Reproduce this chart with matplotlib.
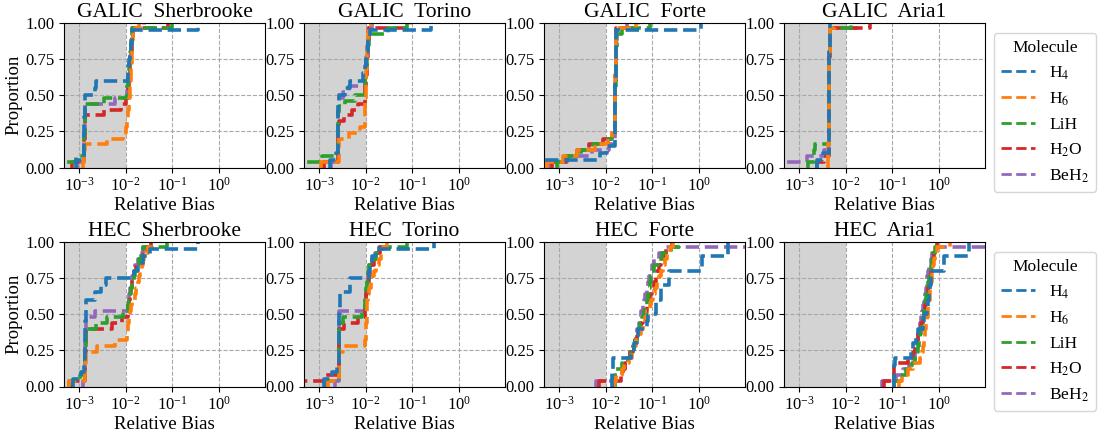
import matplotlib.pyplot as plt
from matplotlib.lines import Line2D

plt.rcParams['font.family'] = ['Liberation Serif', 'DejaVu Serif']
plt.rcParams['mathtext.fontset'] = 'stix'
plt.rcParams['font.size'] = 12

# Molecules and styling
molecules = ['H4', 'H6', 'LiH', 'H2O', 'BeH2']
molecule_labels = ['H$_4$', 'H$_6$', 'LiH', 'H$_2$O', 'BeH$_2$']
colors = ['tab:blue', 'tab:orange', 'tab:green', 'tab:red', 'tab:purple']

methods = ['GALIC', 'HEC']
devices = ['Sherbrooke', 'Torino', 'Forte', 'Aria1']

# relative bias samples, one dict per (method, device) panel
galic_sherbrooke = {
    'H4': [8.5e-4, 1.28e-3, 1.29e-3, 1.3e-3, 1.3e-3, 1.31e-3, 1.31e-3, 1.32e-3, 1.33e-3, 1.34e-3,
           2.2e-3, 2.3e-3, 1.1e-2, 1.15e-2, 1.2e-2, 1.25e-2, 1.3e-2, 1.35e-2, 1.4e-2, 0.36],
    'H6': [1.2e-3, 1.3e-3, 1.32e-3, 1.35e-3, 3.9e-3, 8.9e-3, 1.02e-2, 1.08e-2, 1.12e-2, 1.15e-2,
           1.18e-2, 1.2e-2, 1.22e-2, 1.24e-2, 1.26e-2, 1.28e-2, 1.3e-2, 1.32e-2, 1.34e-2, 1.36e-2,
           1.38e-2, 1.4e-2, 1.42e-2, 1.6e-2, 1.9e-2],
    'LiH': [3e-4, 8.5e-4, 1.3e-3, 1.3e-3, 1.31e-3, 1.31e-3, 1.32e-3, 1.32e-3, 1.33e-3, 1.33e-3,
            1.34e-3, 3.5e-3, 1.05e-2, 1.08e-2, 1.1e-2, 1.13e-2, 1.16e-2, 1.2e-2, 1.23e-2, 1.26e-2,
            1.3e-2, 1.33e-2, 1.37e-2, 1.4e-2, 0.1],
    'H2O': [7e-4, 1.3e-3, 1.3e-3, 1.31e-3, 1.31e-3, 1.32e-3, 1.32e-3, 1.33e-3, 1.34e-3, 3.5e-3,
            8e-3, 1.0e-2, 1.1e-2, 1.13e-2, 1.16e-2, 1.19e-2, 1.22e-2, 1.25e-2, 1.28e-2, 1.31e-2,
            1.34e-2, 1.37e-2, 1.41e-2, 1.45e-2, 0.08],
    'BeH2': [9e-4, 1.29e-3, 1.3e-3, 1.3e-3, 1.31e-3, 1.31e-3, 1.32e-3, 1.32e-3, 1.33e-3, 1.33e-3,
             1.34e-3, 6e-3, 1.05e-2, 1.08e-2, 1.1e-2, 1.13e-2, 1.16e-2, 1.2e-2, 1.23e-2, 1.26e-2,
             1.3e-2, 1.33e-2, 1.37e-2, 1.4e-2, 2.5e-2],
}

galic_torino = {
    'H4': [1.7e-3, 2.3e-3, 2.58e-3, 2.59e-3, 2.6e-3, 2.6e-3, 2.61e-3, 2.61e-3, 2.62e-3, 2.63e-3,
           3.6e-3, 4.6e-3, 9e-3, 9.5e-3, 1.0e-2, 1.05e-2, 1.1e-2, 1.15e-2, 1.25e-2, 0.25],
    'H6': [1.1e-3, 2.63e-3, 2.64e-3, 2.65e-3, 2.66e-3, 4.5e-3, 7.5e-3, 9.5e-3, 9.6e-3, 9.7e-3,
           9.8e-3, 9.9e-3, 1.0e-2, 1.01e-2, 1.02e-2, 1.03e-2, 1.04e-2, 1.05e-2, 1.06e-2, 1.08e-2,
           1.1e-2, 1.12e-2, 1.14e-2, 1.15e-2, 1.3e-2],
    'LiH': [3e-4, 1.15e-3, 2.58e-3, 2.59e-3, 2.6e-3, 2.6e-3, 2.61e-3, 2.61e-3, 2.62e-3, 2.62e-3,
            2.63e-3, 3.6e-3, 6e-3, 9.5e-3, 9.7e-3, 9.9e-3, 1.01e-2, 1.03e-2, 1.05e-2, 1.08e-2,
            1.1e-2, 1.15e-2, 1.2e-2, 1.3e-2, 3e-2, 7.5e-2],
    'H2O': [1.3e-3, 2.59e-3, 2.6e-3, 2.6e-3, 2.61e-3, 2.61e-3, 2.62e-3, 2.63e-3, 3.5e-3, 5e-3,
            7e-3, 9.5e-3, 9.7e-3, 9.9e-3, 1.01e-2, 1.03e-2, 1.05e-2, 1.07e-2, 1.09e-2, 1.11e-2,
            1.13e-2, 1.15e-2, 1.18e-2, 1.2e-2, 9e-2],
    'BeH2': [1.8e-3, 2.57e-3, 2.58e-3, 2.59e-3, 2.6e-3, 2.6e-3, 2.61e-3, 2.61e-3, 2.62e-3, 2.62e-3,
             2.63e-3, 2.64e-3, 3.3e-3, 4.5e-3, 9.5e-3, 9.7e-3, 9.9e-3, 1.01e-2, 1.03e-2, 1.06e-2,
             1.09e-2, 1.12e-2, 1.14e-2, 1.15e-2, 1.35e-2],
}

galic_forte = {
    'H4': [3e-4, 7.5e-3, 1.05e-2, 1.55e-2, 1.56e-2, 1.57e-2, 1.58e-2, 1.59e-2, 1.6e-2, 1.6e-2,
           1.61e-2, 1.62e-2, 1.63e-2, 1.64e-2, 1.65e-2, 1.66e-2, 1.67e-2, 1.68e-2, 1.7e-2, 1.1],
    'H6': [5.5e-4, 1.2e-3, 2.5e-3, 6e-3, 1.1e-2, 1.35e-2, 1.55e-2, 1.56e-2, 1.57e-2, 1.58e-2,
           1.59e-2, 1.6e-2, 1.6e-2, 1.61e-2, 1.61e-2, 1.62e-2, 1.63e-2, 1.64e-2, 1.65e-2, 1.66e-2,
           1.67e-2, 1.68e-2, 1.69e-2, 1.7e-2, 4.5e-2],
    'LiH': [9e-4, 1.6e-3, 3e-3, 5.5e-3, 1.15e-2, 1.4e-2, 1.55e-2, 1.56e-2, 1.57e-2, 1.58e-2,
            1.59e-2, 1.6e-2, 1.61e-2, 1.62e-2, 1.63e-2, 1.64e-2, 1.65e-2, 1.66e-2, 1.67e-2, 1.68e-2,
            1.7e-2, 1.72e-2, 1.75e-2, 2.2e-2, 9e-2],
    'H2O': [7e-4, 1.4e-3, 2.5e-3, 4.5e-3, 9e-3, 1.3e-2, 1.55e-2, 1.56e-2, 1.57e-2, 1.58e-2,
            1.59e-2, 1.6e-2, 1.6e-2, 1.61e-2, 1.61e-2, 1.62e-2, 1.63e-2, 1.64e-2, 1.65e-2, 1.66e-2,
            1.67e-2, 1.68e-2, 1.69e-2, 1.7e-2, 5e-2],
    'BeH2': [6e-4, 1.5e-3, 5e-3, 1.2e-2, 1.55e-2, 1.56e-2, 1.57e-2, 1.58e-2, 1.59e-2, 1.6e-2,
             1.6e-2, 1.61e-2, 1.61e-2, 1.62e-2, 1.63e-2, 1.64e-2, 1.65e-2, 1.66e-2, 1.67e-2, 1.68e-2,
             1.69e-2, 1.7e-2, 1.72e-2, 1.75e-2, 2.9e-2],
}

galic_aria1 = {
    'H4': [2.5e-3, 3.3e-3, 4.35e-3, 4.37e-3, 4.38e-3, 4.4e-3, 4.4e-3, 4.41e-3, 4.42e-3, 4.43e-3,
           4.44e-3, 4.45e-3, 4.46e-3, 4.47e-3, 4.48e-3, 4.5e-3, 4.52e-3, 4.54e-3, 4.57e-3, 4.6e-3],
    'H6': [4.1e-3, 4.15e-3, 4.2e-3, 4.25e-3, 4.3e-3, 4.32e-3, 4.34e-3, 4.36e-3, 4.38e-3, 4.4e-3,
           4.4e-3, 4.41e-3, 4.42e-3, 4.43e-3, 4.44e-3, 4.45e-3, 4.46e-3, 4.47e-3, 4.48e-3, 4.5e-3,
           4.52e-3, 4.54e-3, 4.57e-3, 4.6e-3, 6e-3],
    'LiH': [1.6e-3, 2.1e-3, 2.15e-3, 2.2e-3, 4.3e-3, 4.32e-3, 4.34e-3, 4.36e-3, 4.38e-3, 4.4e-3,
            4.4e-3, 4.41e-3, 4.42e-3, 4.43e-3, 4.44e-3, 4.45e-3, 4.46e-3, 4.47e-3, 4.48e-3, 4.5e-3,
            4.52e-3, 4.54e-3, 4.57e-3, 4.6e-3, 1.3e-2],
    'H2O': [2.5e-3, 3.5e-3, 4.3e-3, 4.32e-3, 4.34e-3, 4.36e-3, 4.38e-3, 4.4e-3, 4.4e-3, 4.41e-3,
            4.42e-3, 4.43e-3, 4.44e-3, 4.45e-3, 4.46e-3, 4.47e-3, 4.48e-3, 4.5e-3, 4.51e-3, 4.52e-3,
            4.54e-3, 4.56e-3, 4.58e-3, 4.6e-3, 3.4e-2],
    'BeH2': [3e-4, 1.5e-3, 3.5e-3, 4.3e-3, 4.32e-3, 4.34e-3, 4.36e-3, 4.38e-3, 4.4e-3, 4.4e-3,
             4.41e-3, 4.42e-3, 4.43e-3, 4.44e-3, 4.45e-3, 4.46e-3, 4.47e-3, 4.48e-3, 4.5e-3, 4.52e-3,
             4.54e-3, 4.56e-3, 4.58e-3, 4.6e-3, 1.8e-2],
}

hec_sherbrooke = {
    'H4': [7.5e-4, 1.1e-3, 1.3e-3, 1.36e-3, 1.37e-3, 1.37e-3, 1.38e-3, 1.38e-3, 1.38e-3, 1.39e-3,
           1.39e-3, 1.4e-3, 2.2e-3, 3e-3, 3.8e-3, 1.5e-2, 1.8e-2, 2.3e-2, 3.3e-2, 0.36],
    'H6': [6e-4, 1.36e-3, 1.37e-3, 1.38e-3, 1.39e-3, 1.4e-3, 2.5e-3, 6e-3, 1.05e-2, 1.1e-2,
           1.15e-2, 1.2e-2, 1.25e-2, 1.3e-2, 1.35e-2, 1.55e-2, 1.7e-2, 1.8e-2, 1.9e-2, 2.0e-2,
           2.2e-2, 2.4e-2, 2.7e-2, 3.0e-2, 3.6e-2],
    'LiH': [6e-4, 1.05e-3, 1.36e-3, 1.37e-3, 1.37e-3, 1.38e-3, 1.38e-3, 1.39e-3, 1.39e-3, 1.4e-3,
            2.3e-3, 4e-3, 9e-3, 1.1e-2, 1.18e-2, 1.25e-2, 1.32e-2, 1.4e-2, 1.5e-2, 1.6e-2,
            1.7e-2, 1.9e-2, 2.1e-2, 2.4e-2, 7.5e-2],
    'H2O': [7e-4, 1.36e-3, 1.37e-3, 1.37e-3, 1.38e-3, 1.38e-3, 1.39e-3, 1.39e-3, 1.4e-3, 1.4e-3,
            5e-3, 8.5e-3, 1.1e-2, 1.15e-2, 1.2e-2, 1.25e-2, 1.3e-2, 1.35e-2, 1.4e-2, 1.5e-2,
            1.7e-2, 2.0e-2, 2.4e-2, 2.8e-2, 3.5e-2],
    'BeH2': [1.2e-3, 1.35e-3, 1.36e-3, 1.37e-3, 1.37e-3, 1.38e-3, 1.38e-3, 1.38e-3, 1.39e-3, 1.39e-3,
             1.4e-3, 1.4e-3, 2.2e-3, 1.1e-2, 1.15e-2, 1.2e-2, 1.25e-2, 1.3e-2, 1.4e-2, 1.5e-2,
             1.6e-2, 1.8e-2, 2.0e-2, 2.3e-2, 2.8e-2],
}

hec_torino = {
    'H4': [1.3e-3, 1.9e-3, 2.4e-3, 2.68e-3, 2.69e-3, 2.7e-3, 2.7e-3, 2.71e-3, 2.72e-3, 2.73e-3,
           2.85e-3, 2.86e-3, 2.88e-3, 4.6e-3, 4.7e-3, 1.2e-2, 1.25e-2, 1.35e-2, 1.7e-2, 0.29],
    'H6': [1.6e-3, 2.68e-3, 2.69e-3, 2.7e-3, 2.71e-3, 2.72e-3, 3.2e-3, 9.5e-3, 1.0e-2, 1.02e-2,
           1.04e-2, 1.05e-2, 1.06e-2, 1.08e-2, 1.09e-2, 1.1e-2, 1.2e-2, 1.3e-2, 1.4e-2, 1.5e-2,
           1.7e-2, 1.9e-2, 2.1e-2, 2.4e-2, 2.8e-2],
    'LiH': [1.5e-3, 2.66e-3, 2.67e-3, 2.68e-3, 2.69e-3, 2.7e-3, 2.7e-3, 2.71e-3, 2.72e-3, 2.73e-3,
            2.74e-3, 3.3e-3, 8.5e-3, 9.5e-3, 9.8e-3, 1.0e-2, 1.03e-2, 1.06e-2, 1.1e-2, 1.15e-2,
            1.2e-2, 1.4e-2, 1.7e-2, 2.2e-2, 7.5e-2],
    'H2O': [4e-4, 1.4e-3, 2.67e-3, 2.68e-3, 2.69e-3, 2.7e-3, 2.71e-3, 2.72e-3, 2.73e-3, 2.74e-3,
            3.5e-3, 7e-3, 9.5e-3, 9.8e-3, 1.0e-2, 1.04e-2, 1.08e-2, 1.12e-2, 1.16e-2, 1.22e-2,
            1.3e-2, 1.5e-2, 1.7e-2, 2.0e-2, 2.4e-2],
    'BeH2': [2.2e-3, 2.64e-3, 2.65e-3, 2.66e-3, 2.67e-3, 2.68e-3, 2.69e-3, 2.7e-3, 2.7e-3, 2.71e-3,
             2.72e-3, 2.73e-3, 2.74e-3, 9.5e-3, 9.8e-3, 1.0e-2, 1.03e-2, 1.06e-2, 1.1e-2, 1.15e-2,
             1.2e-2, 1.4e-2, 1.6e-2, 1.9e-2, 2.2e-2],
}

hec_forte = {
    'H4': [1.4e-2, 1.4e-2, 1.41e-2, 1.42e-2, 3.5e-2, 4e-2, 4.8e-2, 4.9e-2, 7.8e-2, 7.9e-2,
           0.117, 0.118, 0.15, 0.152, 0.23, 0.232, 1.17, 1.18, 4.1, 4.12],
    'H6': [1.5e-2, 1.7e-2, 2.2e-2, 2.5e-2, 3.2e-2, 3.6e-2, 4.0e-2, 4.5e-2, 5.0e-2, 5.6e-2,
           6.3e-2, 7.0e-2, 7.8e-2, 8.7e-2, 9.5e-2, 0.105, 0.115, 0.125, 0.14, 0.155,
           0.17, 0.19, 0.21, 0.24, 0.28],
    'LiH': [1.6e-2, 1.6e-2, 1.61e-2, 2.2e-2, 3.0e-2, 3.5e-2, 3.9e-2, 4.3e-2, 4.7e-2, 5.1e-2,
            5.5e-2, 6.0e-2, 6.5e-2, 7.0e-2, 7.5e-2, 8.0e-2, 8.5e-2, 9.0e-2, 9.5e-2, 0.1,
            0.11, 0.13, 0.16, 0.25, 0.37],
    'H2O': [7.2e-3, 2.1e-2, 2.3e-2, 2.6e-2, 3.0e-2, 3.4e-2, 3.8e-2, 4.3e-2, 4.8e-2, 5.3e-2,
            5.8e-2, 6.3e-2, 6.9e-2, 7.5e-2, 8.2e-2, 9.0e-2, 9.8e-2, 0.107, 0.117, 0.128,
            0.14, 0.155, 0.175, 0.2, 0.26],
    'BeH2': [6.1e-3, 1.6e-2, 2.2e-2, 2.6e-2, 3.0e-2, 3.4e-2, 3.8e-2, 4.2e-2, 4.5e-2, 4.8e-2,
             5.1e-2, 5.4e-2, 5.8e-2, 6.2e-2, 6.6e-2, 7.0e-2, 7.5e-2, 8.0e-2, 8.5e-2, 9.3e-2,
             0.1, 0.11, 0.14, 0.2, 20.0],
}

hec_aria1 = {
    'H4': [0.11, 0.11, 0.111, 0.112, 0.25, 0.28, 0.32, 0.36, 0.46, 0.465,
           0.56, 0.565, 0.62, 0.625, 0.68, 0.685, 1.25, 1.26, 4.4, 4.45],
    'H6': [0.14, 0.16, 0.22, 0.28, 0.4, 0.43, 0.45, 0.47, 0.49, 0.51,
           0.53, 0.55, 0.57, 0.59, 0.61, 0.63, 0.65, 0.67, 0.69, 0.71,
           0.74, 0.78, 0.82, 0.9, 1.7],
    'LiH': [0.11, 0.15, 0.2, 0.26, 0.3, 0.33, 0.35, 0.37, 0.39, 0.41,
            0.43, 0.45, 0.47, 0.49, 0.51, 0.53, 0.55, 0.57, 0.6, 0.63,
            0.66, 0.7, 0.75, 0.8, 0.95],
    'H2O': [0.066, 0.11, 0.11, 0.111, 0.22, 0.27, 0.3, 0.33, 0.36, 0.39,
            0.42, 0.45, 0.48, 0.5, 0.53, 0.56, 0.59, 0.62, 0.65, 0.68,
            0.71, 0.74, 0.78, 0.83, 0.92],
    'BeH2': [0.061, 0.12, 0.17, 0.23, 0.27, 0.3, 0.32, 0.34, 0.36, 0.38,
             0.4, 0.42, 0.44, 0.46, 0.48, 0.5, 0.52, 0.54, 0.56, 0.59,
             0.62, 0.66, 0.72, 0.85, 20.0],
}

panels = [
    [galic_sherbrooke, galic_torino, galic_forte, galic_aria1],
    [hec_sherbrooke, hec_torino, hec_forte, hec_aria1],
]

XMIN, XMAX = 4.8e-4, 9.6
THRESHOLD = 1e-2

fig = plt.figure(figsize=(10.99, 4.37), dpi=100)
W, H = 1099, 437
col_left = [64, 304, 544, 784]
row_top = [22.7, 241.7]
ax_w, ax_h = 201, 144.8

for r, method in enumerate(methods):
    for c, device in enumerate(devices):
        ax = fig.add_axes([col_left[c] / W, 1 - (row_top[r] + ax_h) / H, ax_w / W, ax_h / H])
        data = panels[r][c]
        ax.axvspan(XMIN / 10, THRESHOLD, color='lightgray', zorder=0, lw=0)
        # draw in reverse so H4 sits on top
        for mol, col in reversed(list(zip(molecules, colors))):
            ax.ecdf(data[mol], color=col, ls='--', lw=2.6)
        ax.set_xscale('log')
        ax.set_xlim(XMIN, XMAX)
        ax.set_ylim(0, 1)
        ax.set_xticks([1e-3, 1e-2, 1e-1, 1e0])
        ax.minorticks_off()
        ax.set_yticks([0, 0.25, 0.5, 0.75, 1.0])
        ax.tick_params(labelsize=12)
        ax.grid(True, ls='--', color='#a8a8a8', lw=0.8)
        ax.set_title(f'{method}  {device}', fontsize=15.5, pad=4)
        ax.set_xlabel('Relative Bias', fontsize=13.5, labelpad=1)
        if c == 0:
            ax.set_ylabel('Proportion', fontsize=13.5, labelpad=2)
        if c == 3:
            handles = [Line2D([], [], color=col, ls='--', lw=2) for col in colors]
            ax.legend(handles, molecule_labels, title='Molecule', loc='upper left',
                      bbox_to_anchor=(1.0, 0.99), fontsize=12.5, title_fontsize=12.5)

fig.savefig('out.png', dpi=100)
